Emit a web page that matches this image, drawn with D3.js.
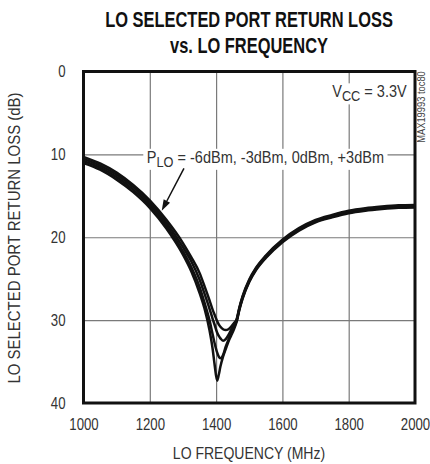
<!DOCTYPE html>
<html><head><meta charset="utf-8">
<script src="https://cdn.jsdelivr.net/npm/d3@7"></script>
<style>
html,body{margin:0;padding:0;background:#fff;}
svg{display:block;}
text{font-family:"Liberation Sans",Arial,sans-serif;}
</style></head>
<body>
<svg id="chart" width="430" height="464"></svg>
<script>
// ---- data ----
const freqs = [1000,1050,1100,1150,1200,1250,1300,1325,1350,1365,1380,1390,1395,1403,1408,1413,1421,1429,1437,1445,1453,1462,1470,1480,1500,1520,1550,1600,1650,1700,1750,1800,1850,1900,1950,2000];
const seriesNames = ["-6dBm","-3dBm","0dBm","+3dBm"];
const lossA = [11.05,11.85,13.05,14.55,16.45,18.95,22.1,24.1,26.7,28.6,31.2,33.6,35.2,37.3,36.6,35.6,34.4,33.5,32.6,31.9,31.2,30.2,28.8,27.4,25.4,24.0,22.5,20.6,19.2,18.2,17.6,17.1,16.8,16.6,16.45,16.4];
const lossB = [10.8,11.6,12.75,14.25,16.15,18.6,21.7,23.6,26.0,27.9,30.0,31.8,32.7,33.9,34.4,34.6,34.2,33.2,32.4,31.6,30.9,30.1,28.7,27.3,25.3,23.9,22.4,20.5,19.1,18.1,17.5,17.0,16.7,16.5,16.35,16.3];
const lossC = [10.55,11.35,12.45,13.95,15.85,18.25,21.2,22.9,25.1,26.8,28.6,29.9,30.5,31.5,31.9,32.2,32.5,32.3,31.8,31.2,30.6,30.0,28.6,27.2,25.2,23.8,22.3,20.4,19.0,18.0,17.4,16.9,16.6,16.4,16.25,16.2];
const lossD = [10.3,11.1,12.2,13.7,15.55,17.9,20.7,22.4,24.3,25.9,27.6,28.8,29.3,30.1,30.5,30.8,31.1,31.2,31.1,30.8,30.4,29.9,28.5,27.1,25.1,23.7,22.2,20.3,18.9,17.9,17.3,16.8,16.5,16.3,16.15,16.1];
const xTicks = [1000,1200,1400,1600,1800,2000];
const yTicks = [0,10,20,30,40];

const svg = d3.select("#chart");
const L = 83.5, R = 415, T = 71.5, B = 403;
const x = d3.scaleLinear().domain([1000,2000]).range([L,R]);
const y = d3.scaleLinear().domain([0,40]).range([T,B]);
const NARROW = 0.8;

// title (condensed via horizontal scale)
function titleLine(txt, yy, targetW){
  const g = svg.append("g");
  const t = g.append("text").attr("x",0).attr("y",0).attr("text-anchor","middle")
    .style("font-weight","bold").style("font-size","21.5px").attr("fill","#111").text(txt);
  const w = t.node().getComputedTextLength();
  g.attr("transform",`translate(249,${yy}) scale(${targetW/w},1)`);
}
titleLine("LO SELECTED PORT RETURN LOSS", 27, 288);
titleLine("vs. LO FREQUENCY", 53, 158);

// gridlines
svg.append("g").attr("transform",`translate(0,${B})`)
  .call(d3.axisBottom(x).tickValues(xTicks.slice(1,-1)).tickSize(-(B-T)).tickFormat(""))
  .call(g=>g.select(".domain").remove())
  .call(g=>g.selectAll("line").attr("stroke","#7a7a7a").attr("stroke-width",1.2));
svg.append("g").attr("transform",`translate(${L},0)`)
  .call(d3.axisLeft(y).tickValues(yTicks.slice(1,-1)).tickSize(-(R-L)).tickFormat(""))
  .call(g=>g.select(".domain").remove())
  .call(g=>g.selectAll("line").attr("stroke","#7a7a7a").attr("stroke-width",1.2));

// tick labels
svg.append("g").attr("transform",`translate(0,${B})`)
  .call(d3.axisBottom(x).tickValues(xTicks).tickSize(0).tickPadding(15).tickFormat(d3.format("d")))
  .call(g=>g.select(".domain").remove())
  .call(g=>g.selectAll("text").style("font-size","16.5px").attr("fill","#333")
    .style("font-family","'Liberation Sans',Arial,sans-serif")
    .attr("transform",`scale(${NARROW},1)`));
svg.append("g").attr("transform",`translate(${L},0)`)
  .call(d3.axisLeft(y).tickValues(yTicks).tickSize(0).tickPadding(18).tickFormat(d3.format("d")))
  .call(g=>g.select(".domain").remove())
  .call(g=>g.selectAll("text").style("font-size","16.5px").attr("fill","#333")
    .style("font-family","'Liberation Sans',Arial,sans-serif")
    .attr("x",-18/NARROW).attr("transform",`scale(${NARROW},1)`));

// axis titles
svg.append("g").attr("transform","translate(249,459) scale(0.85,1)")
  .append("text").attr("text-anchor","middle")
  .style("font-size","16.5px").attr("fill","#333").text("LO FREQUENCY (MHz)");
svg.append("g").attr("transform","translate(20,238) rotate(-90) scale(0.88,1)")
  .append("text").attr("text-anchor","middle")
  .style("font-size","17px").attr("fill","#333").text("LO SELECTED PORT RETURN LOSS (dB)");

// curves
const line = d3.line().x((d,i)=>x(freqs[i])).y(d=>y(d)).curve(d3.curveMonotoneX);
[lossA,lossB,lossC,lossD].forEach((s,k)=>{
  svg.append("path").datum(s).attr("d",line).attr("fill","none")
    .attr("stroke","#111").attr("stroke-width",2.5).attr("class","s"+k);
});

// annotations with white knockout
const LBL = 0.88;
function label(xp, yp, anchor, main, sub, rest){
  const g = svg.append("g").attr("transform",`translate(${xp},${yp}) scale(${LBL},1)`);
  const t = g.append("text").attr("x",0).attr("y",0).attr("text-anchor",anchor)
    .style("font-size","16.5px").attr("fill","#333");
  t.append("tspan").text(main);
  t.append("tspan").attr("dy",4).style("font-size","14.5px").text(sub);
  t.append("tspan").attr("dy",-4).text(rest);
  const bb = t.node().getBBox();
  g.insert("rect", "text")
    .attr("x",bb.x-4).attr("y",bb.y+1).attr("width",bb.width+8).attr("height",bb.height-1)
    .attr("fill","#fff");
  return g;
}
label(x(1191), y(11.0), "start", "P", "LO", " = -6dBm, -3dBm, 0dBm, +3dBm");
label(x(1975), y(3.1), "end", "V", "CC", " = 3.3V");

// arrow
const a0 = [x(1303), y(11.7)], a1 = [x(1236), y(16.8)];
const ang = Math.atan2(a1[1]-a0[1], a1[0]-a0[0]);
const hl = 11, hw = 3.6;
const base = [a1[0]-hl*Math.cos(ang), a1[1]-hl*Math.sin(ang)];
svg.append("line").attr("x1",a0[0]).attr("y1",a0[1]).attr("x2",base[0]).attr("y2",base[1])
  .attr("stroke","#111").attr("stroke-width",1.5);
svg.append("path").attr("d",d3.line()([
  a1,
  [base[0]+hw*Math.sin(ang), base[1]-hw*Math.cos(ang)],
  [base[0]-hw*Math.sin(ang), base[1]+hw*Math.cos(ang)]
])+"Z").attr("fill","#111");

// frame
svg.append("rect").attr("x",L).attr("y",T).attr("width",R-L).attr("height",B-T)
  .attr("fill","none").attr("stroke","#111").attr("stroke-width",3);

// side code
svg.append("g").attr("transform","translate(425,107) rotate(-90) scale(0.85,1)")
  .append("text").attr("text-anchor","middle")
  .style("font-size","11px").attr("fill","#444").text("MAX19993 toc80");
</script>
</body></html>
